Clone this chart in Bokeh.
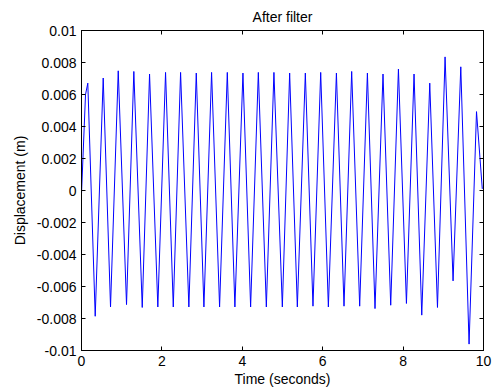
from bokeh.plotting import figure
from bokeh.models import FixedTicker, LinearAxis, ColumnDataSource
from bokeh.embed import file_html
from bokeh.resources import INLINE

# ---- data ----
t_start = [0.0, 0.10]
v_start = [-0.0002, 0.0060]

t_peaks = [0.157, 0.540, 0.914, 1.302, 1.693, 2.091, 2.465, 2.855, 3.236, 3.627,
           4.016, 4.399, 4.787, 5.178, 5.568, 5.950, 6.341, 6.721, 7.112, 7.500,
           7.884, 8.272, 8.663, 9.044, 9.435, 9.826]
v_peaks = [0.00671, 0.00703, 0.00748, 0.00744, 0.00728, 0.00738, 0.00738, 0.00734, 0.00738, 0.00738,
           0.00734, 0.00738, 0.00738, 0.00734, 0.00734, 0.00738, 0.00734, 0.00744, 0.00734, 0.00728,
           0.00759, 0.00728, 0.00671, 0.00835, 0.00773, 0.00493]

t_troughs = [0.341, 0.722, 1.120, 1.511, 1.899, 2.283, 2.671, 3.045, 3.435, 3.816,
             4.207, 4.598, 4.996, 5.369, 5.758, 6.141, 6.530, 6.920, 7.301, 7.692,
             8.083, 8.464, 8.855, 9.243, 9.641]
v_troughs = [-0.00786, -0.00728, -0.00713, -0.00731, -0.00728, -0.00728, -0.00728, -0.00728, -0.00728, -0.00728,
             -0.00728, -0.00728, -0.00728, -0.00728, -0.00723, -0.00728, -0.00723, -0.00723, -0.00738, -0.00717,
             -0.00706, -0.00779, -0.00731, -0.00565, -0.00960]

t_end = [9.97]
v_end = [0.0001]

x_ticks = [0, 2, 4, 6, 8, 10]
x_tick_labels = ["0", "2", "4", "6", "8", "10"]
y_ticks = [-0.01, -0.008, -0.006, -0.004, -0.002, 0, 0.002, 0.004, 0.006, 0.008, 0.01]
y_tick_labels = ["-0.01", "-0.008", "-0.006", "-0.004", "-0.002", "0",
                 "0.002", "0.004", "0.006", "0.008", "0.01"]

title_text = "After filter"
x_label = "Time (seconds)"
y_label = "Displacement (m)"

# ---- assemble series ----
t = list(t_start)
v = list(v_start)
for i in range(len(t_peaks)):
    t.append(t_peaks[i]); v.append(v_peaks[i])
    if i < len(t_troughs):
        t.append(t_troughs[i]); v.append(v_troughs[i])
t += t_end
v += v_end
src = ColumnDataSource(dict(t=t, v=v))

FONT = "Liberation Sans"
FS = "14px"

p = figure(width=493, height=391, x_range=(0, 10), y_range=(-0.01, 0.01),
           output_backend="svg", toolbar_location=None,
           min_border_left=81, min_border_right=10, min_border_top=30, min_border_bottom=41)

p.title.text = title_text
p.title.align = "center"
p.title.text_font = FONT
p.title.text_font_size = FS
p.title.text_font_style = "normal"
p.title.text_color = "black"
p.title.standoff = 12

p.line("t", "v", source=src, line_color="#0000ff", line_width=1)

p.xgrid.visible = False
p.ygrid.visible = False
p.outline_line_color = "black"
p.outline_line_width = 1
p.background_fill_color = "white"
p.border_fill_color = "white"

def style_axis(ax, ticks, labels, show_labels=True):
    ax.ticker = FixedTicker(ticks=ticks)
    ax.major_tick_in = 4
    ax.major_tick_out = 0
    ax.minor_tick_line_color = None
    ax.axis_line_color = "black"
    ax.major_tick_line_color = "black"
    ax.major_label_text_font = FONT
    ax.major_label_text_color = "black"
    if show_labels:
        ax.major_label_overrides = {tk: lb for tk, lb in zip(ticks, labels)}
        ax.major_label_text_font_size = FS
        ax.major_label_standoff = 5
    else:
        ax.major_label_overrides = {tk: "" for tk in ticks}
        ax.major_label_text_font_size = "0px"
        ax.major_label_standoff = 0

style_axis(p.xaxis[0], x_ticks, x_tick_labels)
style_axis(p.yaxis[0], y_ticks, y_tick_labels)
p.xaxis[0].axis_label = x_label
p.yaxis[0].axis_label = y_label
for ax in (p.xaxis[0], p.yaxis[0]):
    ax.axis_label_text_font = FONT
    ax.axis_label_text_font_size = FS
    ax.axis_label_text_font_style = "normal"
    ax.axis_label_text_color = "black"
p.xaxis[0].axis_label_standoff = 2
p.yaxis[0].axis_label_standoff = 6

top_ax = LinearAxis()
right_ax = LinearAxis()
style_axis(top_ax, x_ticks, x_tick_labels, show_labels=False)
style_axis(right_ax, y_ticks, y_tick_labels, show_labels=False)
p.add_layout(top_ax, "above")
p.add_layout(right_ax, "right")

open("out.html", "w").write(file_html(p, INLINE))
